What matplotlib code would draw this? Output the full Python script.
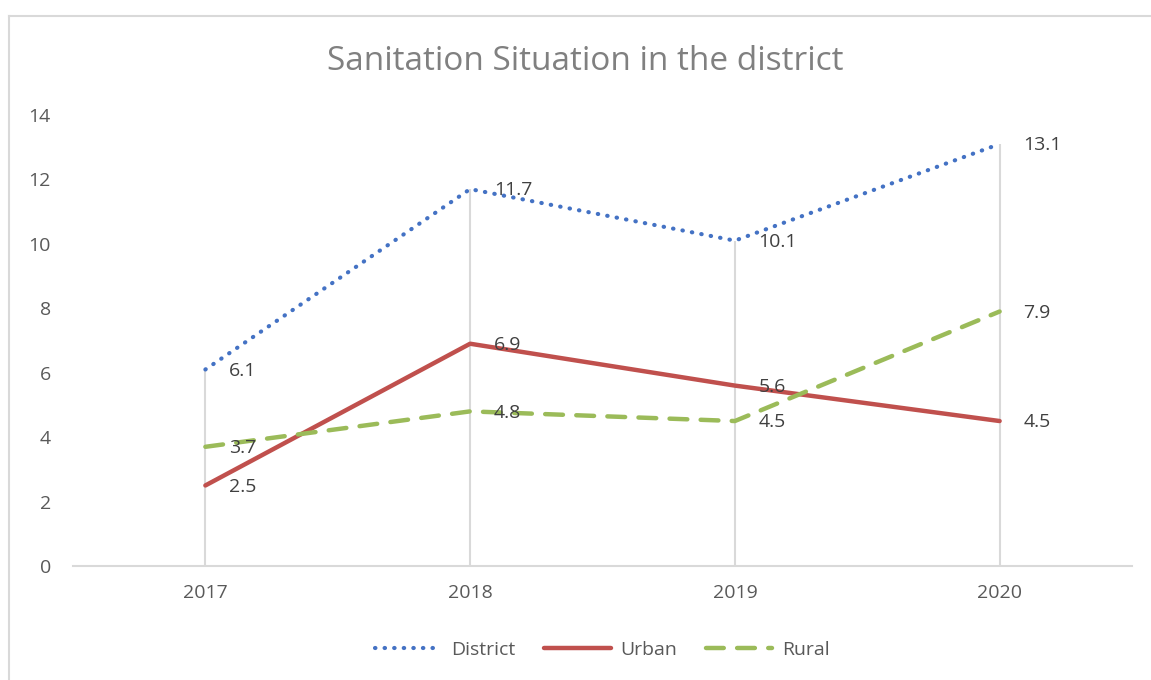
import numpy as np
import matplotlib.pyplot as plt
from matplotlib.lines import Line2D

years = ["2017", "2018", "2019", "2020"]
district = [6.1, 11.7, 10.1, 13.1]
urban = [2.5, 6.9, 5.6, 4.5]
rural = [3.7, 4.8, 4.5, 7.9]

plt.rcParams['font.family'] = ['Open Sans', 'DejaVu Sans']
text_col = '#595959'
grid_col = '#D9D9D9'

fig = plt.figure(figsize=(11.51, 6.8), dpi=100)
ax = fig.add_axes([73 / 1151, 1 - 566 / 680, (1132 - 73) / 1151, (566 - 115) / 680])

x = np.arange(len(years))

# drop lines from the highest value down to the axis
tops = np.max([district, urban, rural], axis=0)
ax.vlines(x, 0, tops, color=grid_col, lw=1.5, zorder=1)

ax.plot(x, district, color='#4472C4', lw=3, linestyle=(0, (0.1, 2.2)),
        dash_capstyle='round', label='District', zorder=3)
ax.plot(x, urban, color='#C0504D', lw=3.2, solid_capstyle='round',
        label='Urban', zorder=3)
ax.plot(x, rural, color='#9BBB59', lw=3.2, linestyle=(0, (4, 3)),
        dash_capstyle='round', label='Rural', zorder=3)

for series in (district, urban, rural):
    for xi, v in zip(x, series):
        ax.annotate(f"{v}", (xi, v), xytext=(17, -1), textcoords='offset points',
                    ha='left', va='center', fontsize=14, color='#404040', zorder=4)

ax.set_xlim(-0.5, 3.5)
ax.set_ylim(0, 14)
ax.set_yticks(range(0, 15, 2))
ax.set_xticks(x)
ax.set_xticklabels(years)
ax.tick_params(axis='both', length=0, labelsize=14, labelcolor=text_col)
ax.tick_params(axis='y', pad=16)
ax.tick_params(axis='x', pad=13)
for side in ['top', 'right', 'left']:
    ax.spines[side].set_visible(False)
ax.spines['bottom'].set_color(grid_col)
ax.spines['bottom'].set_linewidth(1.5)

fig.text(585 / 1151, 1 - 61 / 680, "Sanitation Situation in the district",
         ha='center', va='center', fontsize=24, color='#808080')

ax.legend(loc='center', bbox_to_anchor=(0.5, 1 - (650 - 115) / (566 - 115)),
          bbox_transform=ax.transAxes, ncol=3, frameon=False, fontsize=14,
          labelcolor=text_col, handlelength=3.4, columnspacing=1.5, handletextpad=0.5)

# chart area border (left and top visible)
fig.add_artist(Line2D([8.5 / 1151, 8.5 / 1151], [0, 1 - 16 / 680],
                      transform=fig.transFigure, color=grid_col, lw=1.5))
fig.add_artist(Line2D([8.5 / 1151, 1], [1 - 16 / 680, 1 - 16 / 680],
                      transform=fig.transFigure, color=grid_col, lw=1.5))

fig.savefig('out.png', dpi=100)
